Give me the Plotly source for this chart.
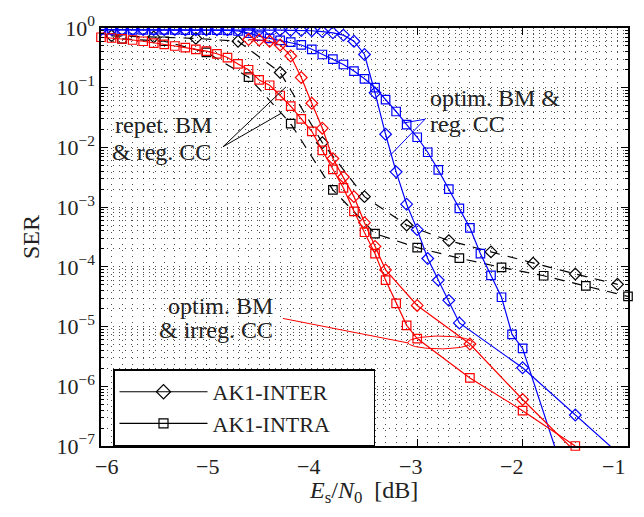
import math
import plotly.graph_objects as go

# ---------------- data ----------------
# AK1-INTER, optim. BM & reg. CC (blue diamonds)
x_inter_reg = [-6.0, -5.9, -5.8, -5.7, -5.6, -5.5, -5.4, -5.3, -5.2, -5.1, -5.0, -4.9, -4.8, -4.7,
               -4.6, -4.5, -4.4, -4.3, -4.2, -4.1, -4.0, -3.9, -3.8, -3.7, -3.6, -3.5, -3.4, -3.3,
               -3.2, -3.1, -3.0, -2.9, -2.8, -2.7, -2.6, -2.0, -1.5, -1.0]
y_inter_reg = [0.94, 0.94, 0.94, 0.94, 0.94, 0.94, 0.94, 0.94, 0.93, 0.93, 0.93, 0.93, 0.93, 0.93,
               0.93, 0.92, 0.92, 0.92, 0.91, 0.91, 0.90, 0.87, 0.83, 0.76, 0.60, 0.36, 0.082, 0.0166,
               3.9e-3, 1.12e-3, 4.2e-4, 1.38e-4, 6.0e-5, 2.75e-5, 1.15e-5, 2.04e-6, 3.3e-7, 5.4e-8]

# AK1-INTRA, optim. BM & reg. CC (blue squares)
x_intra_reg = [-6.0, -5.9, -5.8, -5.7, -5.6, -5.5, -5.4, -5.3, -5.2, -5.1, -5.0, -4.9, -4.8, -4.7,
               -4.6, -4.5, -4.4, -4.3, -4.2, -4.1, -4.0, -3.9, -3.8, -3.7, -3.6, -3.5, -3.4, -3.3,
               -3.2, -3.1, -3.0, -2.9, -2.8, -2.7, -2.6, -2.5, -2.4, -2.3, -2.2, -2.1, -2.0, -1.6]
y_intra_reg = [0.93, 0.93, 0.93, 0.93, 0.93, 0.93, 0.93, 0.93, 0.92, 0.92, 0.92, 0.92, 0.91, 0.89,
               0.82, 0.73, 0.67, 0.62, 0.58, 0.52, 0.44, 0.36, 0.30, 0.245, 0.19, 0.141, 0.10, 0.063,
               0.040, 0.024, 0.0148, 8.3e-3, 4.2e-3, 2.0e-3, 9.5e-4, 4.5e-4, 1.66e-4, 7.2e-5, 3.1e-5,
               7.4e-6, 4.3e-6, 3e-8]

# AK1-INTER, optim. BM & irreg. CC (red diamonds)
x_inter_irreg = [-4.6, -4.5, -4.4, -4.3, -4.2, -4.1, -4.0, -3.9, -3.8, -3.7, -3.6, -3.5, -3.4, -3.3,
                 -3.0, -2.5, -2.0, -1.5]
y_inter_irreg = [0.64, 0.63, 0.60, 0.52, 0.34, 0.148, 0.055, 0.021, 6.5e-3, 3.2e-3, 1.5e-3, 5.5e-4,
                 2.2e-4, 8.9e-5, 2.26e-5, 5.1e-6, 6.0e-7, 8e-8]

# AK1-INTRA, optim. BM & irreg. CC (red squares)
x_intra_irreg = [-6.0, -5.9, -5.8, -5.7, -5.6, -5.5, -5.4, -5.3, -5.2, -5.1, -5.0, -4.9, -4.8, -4.7,
                 -4.6, -4.5, -4.4, -4.3, -4.2, -4.1, -4.0, -3.9, -3.8, -3.7, -3.6, -3.5, -3.4, -3.3,
                 -3.2, -3.1, -3.0, -2.5, -2.0, -1.5]
y_intra_irreg = [0.70, 0.68, 0.66, 0.63, 0.60, 0.56, 0.53, 0.50, 0.47, 0.44, 0.41, 0.37, 0.32, 0.25,
                 0.20, 0.135, 0.11, 0.074, 0.049, 0.030, 0.0186, 8.9e-3, 4.3e-3, 2.1e-3, 8.5e-4,
                 3.8e-4, 1.66e-4, 6.0e-5, 2.45e-5, 1.05e-5, 6.3e-6, 1.38e-6, 3.9e-7, 1.0e-7]

# AK1-INTER, repet. BM & reg. CC (black diamonds, dashed)
x_inter_rep = [-5.9, -5.5, -5.1, -4.7, -4.3, -3.9, -3.5, -3.1, -2.7, -2.3, -1.9, -1.5, -1.1]
y_inter_rep = [0.74, 0.71, 0.67, 0.60, 0.18, 0.012, 1.5e-3, 5.0e-4, 2.75e-4, 1.78e-4, 1.15e-4,
               7.6e-5, 5.1e-5]

# AK1-INTRA, repet. BM & reg. CC (black squares, dashed)
x_intra_rep = [-5.8, -5.4, -5.0, -4.6, -4.2, -3.8, -3.4, -3.0, -2.6, -2.2, -1.8, -1.4, -1.0]
y_intra_rep = [0.66, 0.60, 0.39, 0.15, 0.025, 1.95e-3, 3.6e-4, 2.1e-4, 1.4e-4, 9.8e-5, 7.1e-5,
               4.8e-5, 3.2e-5]

legend_names = ["AK1-INTER", "AK1-INTRA"]
x_ticks = [-6, -5, -4, -3, -2, -1]
y_exps = [0, -1, -2, -3, -4, -5, -6, -7]

# ---------------- figure ----------------
FONT = "Liberation Serif, Times New Roman, serif"
BLUE, RED, BLACK = "#0000ff", "#ff0000", "#000000"
TXT = "#222222"
PLOT_W, PLOT_H = 527, 426

fig = go.Figure()

def add(x, y, color, symbol, dash="solid", clip=True):
    fig.add_trace(go.Scatter(
        x=x, y=y, mode="lines+markers", showlegend=False, cliponaxis=clip,
        line=dict(color=color, width=1.2, dash=dash),
        marker=dict(symbol=symbol, size=9 if "diamond" in symbol else 8.5,
                    color=color, line=dict(color=color, width=1.2)),
    ))

add(x_inter_rep, y_inter_rep, BLACK, "diamond-open", dash="10px,8px", clip=False)
add(x_intra_rep, y_intra_rep, BLACK, "square-open", dash="10px,8px", clip=False)
add(x_intra_reg, y_intra_reg, BLUE, "square-open")
add(x_inter_reg, y_inter_reg, BLUE, "diamond-open")
add(x_intra_irreg, y_intra_irreg, RED, "square-open", clip=False)
add(x_inter_irreg, y_inter_irreg, RED, "diamond-open")

# legend entries
for name, sym in zip(legend_names, ["diamond-open", "square-open"]):
    fig.add_trace(go.Scatter(
        x=[None], y=[None], mode="lines+markers", name=name + "\u00a0" * 7,
        line=dict(color=BLACK, width=1.2),
        marker=dict(symbol=sym, size=11 if "diamond" in sym else 9,
                    color=BLACK, line=dict(color=BLACK, width=1.2)),
    ))

# annotation pointer lines
def seg(xs, ys, color):
    fig.add_trace(go.Scatter(x=xs, y=ys, mode="lines", showlegend=False, hoverinfo="skip",
                             line=dict(color=color, width=1)))

seg([-4.245, -4.842, -4.292], [10 ** -0.986, 10 ** -1.988, 10 ** -1.43], BLACK)
seg([-3.144, -2.926, -3.258], [10 ** -1.594, 10 ** -1.528, 10 ** -2.136], BLUE)
seg([-4.273, -3.087], [10 ** -4.864, 10 ** -5.274], RED)

cx, cy, rx, ry = -2.784, -5.266, 0.304, 0.107
ts = [2 * math.pi * k / 80 for k in range(81)]
seg([cx + rx * math.cos(t) for t in ts], [10 ** (cy + ry * math.sin(t)) for t in ts], RED)

ann_font = dict(family=FONT, size=24, color=TXT)
def txt(x, ly, s, anchor):
    fig.add_annotation(x=x, y=ly, xref="x", yref="y", text=s, showarrow=False,
                       xanchor=anchor, yanchor="middle", font=ann_font)

txt(-5.886, -1.63, "repet. BM", "left")
txt(-5.915, -2.08, "&amp; reg. CC", "left")
txt(-2.898, -1.18, "optim. BM &amp;", "left")
txt(-2.898, -1.60, "reg. CC", "left")
txt(-4.349, -4.65, "optim. BM", "right")
txt(-4.349, -5.06, "&amp; irreg. CC", "right")

# x tick labels (placed like the reference's slightly compressed label row)
for v in x_ticks:
    fig.add_annotation(x=(5 + (v + 6) * 101.4) / PLOT_W, y=-21 / PLOT_H, xref="paper", yref="paper",
                       text="\u2212%d" % abs(v), showarrow=False, xanchor="center", yanchor="middle",
                       font=dict(family=FONT, size=22, color=TXT))
# x axis title
fig.add_annotation(x=0.5 - 1.5 / PLOT_W, y=-47 / PLOT_H, xref="paper", yref="paper",
                   text="<i>E</i><sub>s</sub>/<i>N</i><sub>0</sub>  [dB]", showarrow=False,
                   xanchor="center", yanchor="middle", font=dict(family=FONT, size=24, color=TXT))

tick_font = dict(family=FONT, size=22, color=TXT)
grid_col = "rgba(0,0,0,0.7)"
gdash = "1px,5px"

fig.update_xaxes(
    range=[-6, -1], tickvals=x_ticks, showticklabels=False,
    ticks="inside", ticklen=7, tickwidth=1, tickcolor=BLACK,
    showline=True, linecolor=BLACK, linewidth=1.5, mirror="ticks",
    showgrid=True, gridcolor=grid_col, griddash=gdash, gridwidth=1,
    minor=dict(dtick=0.1, showgrid=True, gridcolor=grid_col, griddash=gdash, gridwidth=1, ticks=""),
    zeroline=False,
)

minor_vals = [k * 10.0 ** e for e in range(-7, 0) for k in range(2, 10)]
fig.update_yaxes(
    type="log", range=[-7, 0],
    tickvals=[10.0 ** e for e in y_exps],
    ticktext=["10<sup>%s</sup>" % (str(e) if e == 0 else "\u2212%d" % abs(e)) for e in y_exps],
    ticks="inside", ticklen=7, tickwidth=1, tickcolor=BLACK,
    showline=True, linecolor=BLACK, linewidth=1.5, mirror="ticks",
    showgrid=True, gridcolor=grid_col, griddash=gdash, gridwidth=1,
    minor=dict(tickvals=minor_vals, showgrid=True, gridcolor=grid_col, griddash=gdash,
               gridwidth=1, ticks="inside", ticklen=3, tickcolor=BLACK),
    tickfont=tick_font, zeroline=False,
    title=dict(text="SER", font=dict(family=FONT, size=24, color=TXT), standoff=10),
)

fig.update_layout(
    width=644, height=517,
    margin=dict(l=101, r=16, t=20, b=71),
    paper_bgcolor="white", plot_bgcolor="white",
    font=dict(family=FONT, color=TXT),
    legend=dict(x=12 / PLOT_W, y=78 / PLOT_H, xanchor="left", yanchor="top",
                bgcolor="white", bordercolor=BLACK, borderwidth=1.5,
                font=dict(family=FONT, size=22, color=TXT), itemwidth=88,
                tracegroupgap=0),
)

fig.write_html("out.html")
